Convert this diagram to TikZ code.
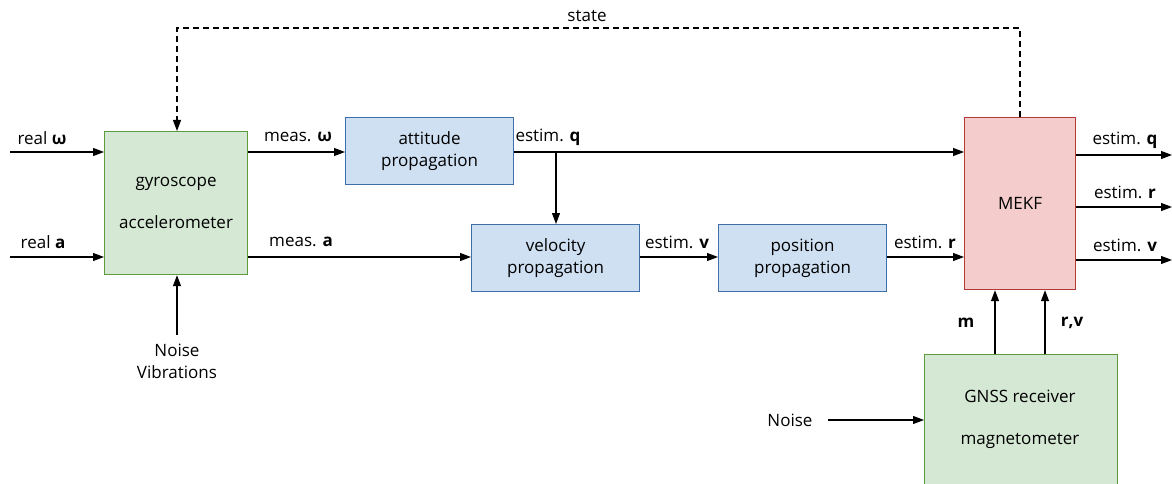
\documentclass[tikz,border=0pt]{standalone}
\usepackage{fontspec}
\setmainfont{Open Sans}
\usetikzlibrary{arrows.meta}
\definecolor{gfill}{HTML}{D5E8D4}
\definecolor{gline}{HTML}{5E9A3C}
\definecolor{bfill}{HTML}{CFE0F3}
\definecolor{bline}{HTML}{3F6FA8}
\definecolor{rfill}{HTML}{F4CCCC}
\definecolor{rline}{HTML}{B23A36}
\tikzset{
  x=1pt, y=-1pt,
  every node/.style={font=\fontsize{17}{22}\selectfont, inner sep=0pt, align=center},
  block/.style={draw, line width=1.2pt, anchor=north west},
  sensor/.style={block, fill=gfill, draw=gline},
  prop/.style={block, fill=bfill, draw=bline},
  filt/.style={block, fill=rfill, draw=rline},
  flow/.style={-{Triangle[length=11pt,width=8pt]}, line width=1.1pt},
  fb/.style={flow, dash pattern=on 6pt off 4pt}
}
\begin{document}
\begin{tikzpicture}
\useasboundingbox (0,0) rectangle (1172,484);

% blocks
\node[sensor, minimum width=143pt, minimum height=143pt] (imu) at (104,131) {};
\node (imutxt) at (imu.center) {gyroscope\\[20pt]accelerometer};
\node[prop, minimum width=168pt, minimum height=67pt] (att) at (345,117)
  {attitude\\propagation};
\node[prop, minimum width=168pt, minimum height=67pt] (vel) at (471,224)
  {velocity\\propagation};
\node[prop, minimum width=168pt, minimum height=67pt] (pos) at (718,224)
  {position\\propagation};
\node[filt, minimum width=111pt, minimum height=172pt] (mekf) at (964,117) {MEKF};
\begin{scope}
\clip (0,0) rectangle (1172,484);
\node[sensor, minimum width=193pt, minimum height=140pt] (gnss) at (924,354) {};
\end{scope}
\node (gnsstxt) at (1020,419) {GNSS receiver\\[20pt]magnetometer};

% free ends
\coordinate (inw) at (10,152);
\coordinate (ina) at (10,257);
\coordinate (outq) at (1172,155);
\coordinate (outr) at (1172,207);
\coordinate (outv) at (1172,260);
\coordinate (br) at (556,152);
\coordinate (nv) at (177,335);
\coordinate (mb) at (995,354);
\coordinate (rvb) at (1045,354);
\coordinate (ns) at (828,420);

% texts
\node (t1) at (42,138) {real \textbf{ω}};
\node (t2) at (43,242) {real \textbf{a}};
\node (t3) at (298,137) {meas. \textbf{ω}};
\node (t4) at (301,242) {meas. \textbf{a}};
\node (t5) at (548,137) {estim. \textbf{q}};
\node (t6) at (677,242) {estim. \textbf{v}};
\node (t7) at (925,242) {estim. \textbf{r}};
\node (t8) at (1125,140) {estim. \textbf{q}};
\node (t9) at (1125,192) {estim. \textbf{r}};
\node (t10) at (1125,245) {estim. \textbf{v}};
\node (st) at (587,16) {state};
\node (noisev) at (177,361) {Noise\\Vibrations};
\node (noise) at (790,420) {Noise};
\node (tm) at (966,323) {\textbf{m}};
\node (trv) at (1072,323) {\textbf{r,v}};

% connectors
\draw[flow] (inw) -- (inw -| imu.west);
\draw[flow] (ina) -- (ina -| imu.west);
\draw[flow] (imu.east |- inw) -- (att.west |- inw);
\draw[flow] (imu.east |- ina) -- (vel.west |- ina);
\draw[flow] (att.east |- br) -- (mekf.west |- br);
\draw[flow] (br) -- (br |- vel.north);
\draw[flow] (vel.east |- ina) -- (pos.west |- ina);
\draw[flow] (pos.east |- ina) -- (mekf.west |- ina);
\draw[flow] (mekf.east |- outq) -- (outq);
\draw[flow] (mekf.east |- outr) -- (outr);
\draw[flow] (mekf.east |- outv) -- (outv);
\draw[flow] (nv) -- (nv |- imu.south);
\draw[flow] (ns) -- (gnss.west |- ns);
\draw[flow] (mb) -- (mb |- mekf.south);
\draw[flow] (rvb) -- (rvb |- mekf.south);
\draw[fb] (mekf.north -| 1020,0) -- (1020,28) -- (177,28) -- (imu.north -| 177,0);
\end{tikzpicture}
\end{document}
